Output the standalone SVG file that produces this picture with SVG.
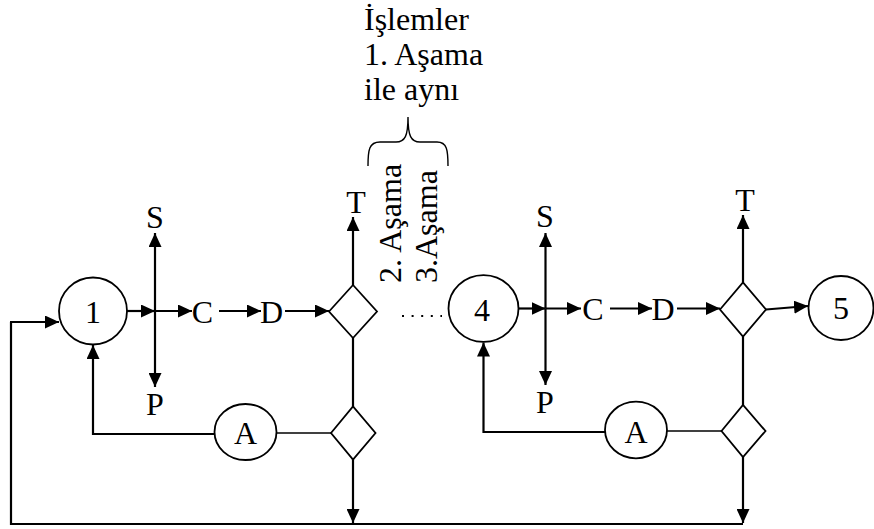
<svg xmlns="http://www.w3.org/2000/svg" width="874" height="529" viewBox="0 0 874 529">
<defs>
<marker id="ah" markerUnits="userSpaceOnUse" markerWidth="14" markerHeight="13" refX="14" refY="6.5" orient="auto">
<path d="M0,0 L14,6.5 L0,13 z" fill="#000"/>
</marker>
<style>
.ln{fill:none;stroke:#000;stroke-width:2.2}
.thin{fill:none;stroke:#000;stroke-width:1.4}
.arr{marker-end:url(#ah)}
.shape{fill:#fff;stroke:#000;stroke-width:1.8}
.t{font-family:"Liberation Serif","Times New Roman",serif;font-size:32px;fill:#000}
.c{text-anchor:middle}
</style>
</defs>
<rect width="874" height="529" fill="#fff"/>
<g id="connectors">
<line class="ln arr" x1="127" y1="311" x2="155" y2="311"/>
<line class="ln arr" x1="155" y1="311" x2="155" y2="233"/>
<line class="ln arr" x1="155" y1="311" x2="155" y2="387"/>
<line class="ln arr" x1="155" y1="311" x2="192" y2="311"/>
<line class="ln arr" x1="219" y1="311" x2="261" y2="311"/>
<line class="ln arr" x1="285" y1="311" x2="329" y2="311"/>
<line class="ln arr" x1="353" y1="285" x2="353" y2="217"/>
<line class="ln" x1="353" y1="338" x2="353" y2="407"/>
<line class="thin" x1="331" y1="433" x2="277" y2="433"/>
<polyline class="ln arr" points="214,434 93,434 93,345"/>
<line class="ln arr" x1="353" y1="459" x2="353" y2="523"/>
<polyline class="ln" points="743,524 11,524 11,322"/>
<line class="ln arr" x1="10" y1="322" x2="59" y2="322"/>
<line x1="402" y1="316" x2="442" y2="316" stroke="#000" stroke-width="2" stroke-dasharray="2 7.6"/>
<line class="ln arr" x1="518" y1="308.5" x2="545.5" y2="308.5"/>
<line class="ln arr" x1="545.5" y1="308.5" x2="545.5" y2="233"/>
<line class="ln arr" x1="545.5" y1="308.5" x2="545.5" y2="385"/>
<line class="ln arr" x1="545.5" y1="308.5" x2="581" y2="308.5"/>
<line class="ln arr" x1="610" y1="308.5" x2="652" y2="308.5"/>
<line class="ln arr" x1="677" y1="308.5" x2="720" y2="308.5"/>
<line class="ln arr" x1="743" y1="282.5" x2="743" y2="215"/>
<line class="ln arr" x1="766" y1="309.5" x2="808" y2="306"/>
<line class="ln" x1="743" y1="336.5" x2="743" y2="405"/>
<line class="thin" x1="721.5" y1="431" x2="667" y2="431"/>
<polyline class="ln arr" points="605,432 483.5,432 483.5,342.5"/>
<line class="ln arr" x1="743" y1="457" x2="743" y2="523"/>
<path class="thin" d="M368,166 C368,150 369,142 380,142 L396,142 C405,142 408,136 408,117 C408,136 411,142 420,142 L437,142 C447,142 448,150 448,166"/>
</g>
<g id="n1"><ellipse class="shape" cx="93" cy="311" rx="34" ry="33.5"/><text class="t c" x="93" y="323">1</text></g>
<g id="S1"><text class="t c" x="155" y="228">S</text></g>
<g id="P1"><text class="t c" x="155" y="415">P</text></g>
<g id="C1"><text class="t c" x="202.5" y="323">C</text></g>
<g id="D1"><text class="t c" x="271.5" y="323">D</text></g>
<g id="dec1"><polygon class="shape" points="329,311.5 353,285 377,311.5 353,338"/></g>
<g id="T1"><text class="t c" x="356" y="213">T</text></g>
<g id="dec2"><polygon class="shape" points="331,433 353,406.5 375.5,433 353,459.5"/></g>
<g id="A1"><ellipse class="shape" cx="245.5" cy="432" rx="31" ry="28"/><text class="t c" x="245.5" y="444">A</text></g>
<g id="note">
<text class="t" x="364" y="30">İşlemler</text>
<text class="t" x="364" y="65">1. Aşama</text>
<text class="t" x="364" y="100">ile aynı</text>
</g>
<g id="stages">
<text class="t" transform="translate(401,283) rotate(-90)">2. Aşama</text>
<text class="t" transform="translate(437,283) rotate(-90)">3.Aşama</text>
</g>
<g id="n4"><ellipse class="shape" cx="483.5" cy="308.5" rx="35" ry="33.3"/><text class="t c" x="482" y="321">4</text></g>
<g id="S2"><text class="t c" x="545" y="227">S</text></g>
<g id="P2"><text class="t c" x="545" y="413">P</text></g>
<g id="C2"><text class="t c" x="593" y="320">C</text></g>
<g id="D2"><text class="t c" x="663" y="320">D</text></g>
<g id="dec3"><polygon class="shape" points="720,309.5 743,282.5 766,309.5 743,336.5"/></g>
<g id="T2"><text class="t c" x="745" y="211">T</text></g>
<g id="n5"><ellipse class="shape" cx="841" cy="308" rx="32.5" ry="32"/><text class="t c" x="841" y="319">5</text></g>
<g id="dec4"><polygon class="shape" points="721.5,431 743,405 765.5,431 743,457"/></g>
<g id="A2"><ellipse class="shape" cx="636" cy="430" rx="31" ry="28.3"/><text class="t c" x="636" y="443">A</text></g>
</svg>
